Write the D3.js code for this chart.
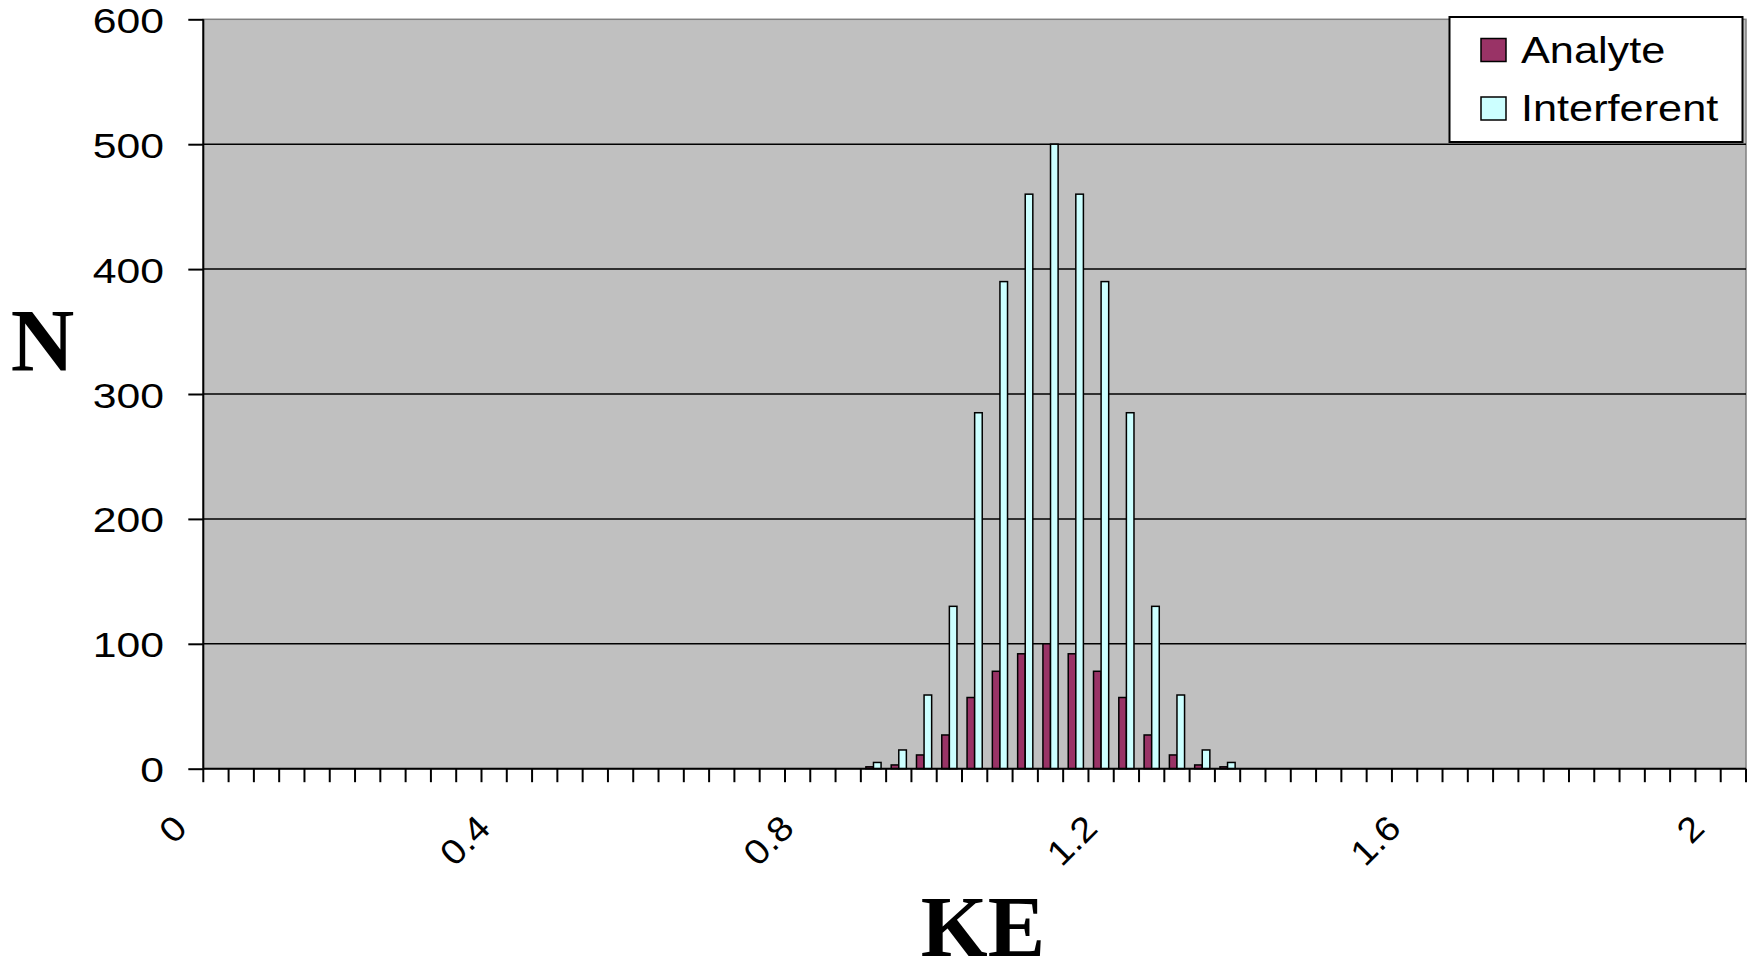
<!DOCTYPE html>
<html>
<head>
<meta charset="utf-8">
<script src="https://cdn.jsdelivr.net/npm/d3@7"></script>
<style>
  html, body { margin: 0; padding: 0; background: #ffffff; }
  svg { display: block; }
</style>
</head>
<body>
<svg id="chart" width="1755" height="964"></svg>
<script>
// ---- data ----
const categories = [
  0.000, 0.033, 0.067, 0.100, 0.133, 0.167, 0.200, 0.233, 0.267, 0.300,
  0.333, 0.367, 0.400, 0.433, 0.467, 0.500, 0.533, 0.567, 0.600, 0.633,
  0.667, 0.700, 0.733, 0.767, 0.800, 0.833, 0.867, 0.900, 0.933, 0.967,
  1.000, 1.033, 1.067, 1.100, 1.133, 1.167, 1.200, 1.233, 1.267, 1.300,
  1.333, 1.367, 1.400, 1.433, 1.467, 1.500, 1.533, 1.567, 1.600, 1.633,
  1.667, 1.700, 1.733, 1.767, 1.800, 1.833, 1.867, 1.900, 1.933, 1.967,
  2.000
];
const analyte = [
  0, 0, 0, 0, 0, 0, 0, 0, 0, 0,
  0, 0, 0, 0, 0, 0, 0, 0, 0, 0,
  0, 0, 0, 0, 0, 0, 1.5, 3, 11, 27,
  57, 78, 92, 100, 92, 78, 57, 27, 11, 3,
  1.5, 0, 0, 0, 0, 0, 0, 0, 0, 0,
  0, 0, 0, 0, 0, 0, 0, 0, 0, 0,
  0
];
const interferent = [
  0, 0, 0, 0, 0, 0, 0, 0, 0, 0,
  0, 0, 0, 0, 0, 0, 0, 0, 0, 0,
  0, 0, 0, 0, 0, 0, 5, 15, 59, 130,
  285, 390, 460, 500, 460, 390, 285, 130, 59, 15,
  5, 0, 0, 0, 0, 0, 0, 0, 0, 0,
  0, 0, 0, 0, 0, 0, 0, 0, 0, 0,
  0
];
const seriesNames = ["Analyte", "Interferent"];
const seriesColors = ["#993366", "#CCFFFF"];
const xTickLabels = ["0", "0.4", "0.8", "1.2", "1.6", "2"];
const xTickValues = [0.000, 0.400, 0.800, 1.200, 1.600, 2.000];
const yTicks = [0, 100, 200, 300, 400, 500, 600];
const xTitle = "KE";
const yTitle = "N";

// ---- layout ----
const plot = { left: 203.3, right: 1746, top: 19.3, bottom: 768.7 };
const svg = d3.select("#chart");
const sansFont = "'Liberation Sans', Arial, sans-serif";
const serifFont = "'Liberation Serif', 'Times New Roman', serif";

const x = d3.scaleBand()
  .domain(categories)
  .range([plot.left, plot.right])
  .paddingInner(0).paddingOuter(0);
const step = x.step();
const groupW = step * 0.6;
const xs = d3.scaleBand()
  .domain(seriesNames)
  .range([0, groupW]);
const y = d3.scaleLinear().domain([0, 600]).range([plot.bottom, plot.top]);

// plot area
svg.append("rect")
  .attr("x", plot.left).attr("y", plot.top)
  .attr("width", plot.right - plot.left).attr("height", plot.bottom - plot.top)
  .attr("fill", "#C0C0C0")
  .attr("stroke", "#808080").attr("stroke-width", 1.5);

// gridlines
svg.append("g").selectAll("line")
  .data(yTicks.filter(v => v > 0 && v < 600))
  .join("line")
  .attr("x1", plot.left).attr("x2", plot.right)
  .attr("y1", d => y(d)).attr("y2", d => y(d))
  .attr("stroke", "#000").attr("stroke-width", 1.5);

// bars
const series = [analyte, interferent];
const barsG = svg.append("g");
series.forEach((vals, si) => {
  barsG.append("g").selectAll("rect")
    .data(categories.map((c, i) => ({ c, v: vals[i] })).filter(d => d.v > 0))
    .join("rect")
    .attr("x", d => x(d.c) + (step - groupW) / 2 + xs(seriesNames[si]))
    .attr("width", xs.bandwidth())
    .attr("y", d => y(d.v))
    .attr("height", d => y(0) - y(d.v))
    .attr("fill", seriesColors[si])
    .attr("stroke", "#000").attr("stroke-width", 1.5);
});

// y axis
const yAxis = d3.axisLeft(y).tickValues(yTicks).tickSize(15).tickFormat("");
const yg = svg.append("g").attr("transform", `translate(${plot.left},0)`).call(yAxis);
yg.select(".domain").attr("stroke", "#000").attr("stroke-width", 2).attr("d", `M0,${plot.top}V${plot.bottom}`);
yg.selectAll(".tick line").attr("stroke", "#000").attr("stroke-width", 2);

svg.append("g").selectAll("text")
  .data(yTicks)
  .join("text")
  .attr("transform", d => `translate(164,${y(d) + 13.5}) scale(1.22,1)`)
  .attr("text-anchor", "end")
  .attr("font-family", sansFont)
  .attr("font-size", 35)
  .attr("fill", "#000")
  .text(d => d);

// x axis line
svg.append("line")
  .attr("x1", plot.left).attr("x2", plot.right)
  .attr("y1", plot.bottom).attr("y2", plot.bottom)
  .attr("stroke", "#000").attr("stroke-width", 2);

// x ticks at category boundaries
const boundaries = categories.map(c => x(c)).concat([plot.right]);
svg.append("g").selectAll("line")
  .data(boundaries)
  .join("line")
  .attr("x1", d => d).attr("x2", d => d)
  .attr("y1", plot.bottom).attr("y2", plot.bottom + 13.5)
  .attr("stroke", "#000").attr("stroke-width", 2);

// x tick labels (rotated)
svg.append("g").selectAll("text")
  .data(xTickValues.map((v, i) => ({ v, label: xTickLabels[i] })))
  .join("text")
  .attr("transform", d => {
    const cx = x(categories.find(c => Math.abs(c - d.v) < 1e-6)) + step / 2;
    return `translate(${cx - 27},830) rotate(-45) scale(1.1,1)`;
  })
  .attr("text-anchor", "end")
  .attr("font-family", sansFont)
  .attr("font-size", 35)
  .attr("fill", "#000")
  .text(d => d.label);

// axis titles
svg.append("text")
  .attr("x", 983).attr("y", 956)
  .attr("text-anchor", "middle")
  .attr("font-family", serifFont)
  .attr("font-weight", "bold")
  .attr("font-size", 86)
  .attr("fill", "#000")
  .text(xTitle);

svg.append("text")
  .attr("x", 42.5).attr("y", 370)
  .attr("text-anchor", "middle")
  .attr("font-family", serifFont)
  .attr("font-weight", "bold")
  .attr("font-size", 88)
  .attr("fill", "#000")
  .text(yTitle);

// legend
const lg = svg.append("g");
lg.append("rect")
  .attr("x", 1449.5).attr("y", 17).attr("width", 293).attr("height", 125)
  .attr("fill", "#fff").attr("stroke", "#000").attr("stroke-width", 2);
const legendRows = [62.5, 121];
seriesNames.forEach((name, i) => {
  lg.append("rect")
    .attr("x", 1481).attr("y", legendRows[i] - 24)
    .attr("width", 25).attr("height", 23)
    .attr("fill", seriesColors[i])
    .attr("stroke", "#000").attr("stroke-width", 1.5);
  lg.append("text")
    .attr("transform", `translate(1521,${legendRows[i]}) scale(1.17,1)`)
    .attr("font-family", sansFont)
    .attr("font-size", 37)
    .attr("fill", "#000")
    .text(name);
});
</script>
</body>
</html>
